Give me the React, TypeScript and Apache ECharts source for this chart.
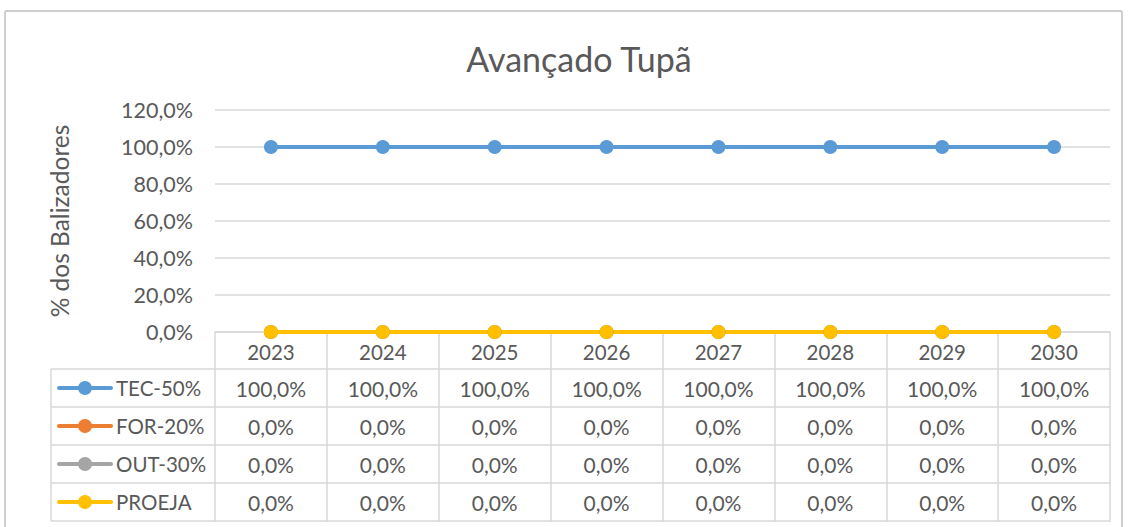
import React, { useEffect, useRef } from "react";
import * as echarts from "echarts";

const title = "Avançado Tupã";
const yAxisTitle = "% dos Balizadores";
const years = ["2023", "2024", "2025", "2026", "2027", "2028", "2029", "2030"];
const tecValues = [1, 1, 1, 1, 1, 1, 1, 1];
const forValues = [0, 0, 0, 0, 0, 0, 0, 0];
const outValues = [0, 0, 0, 0, 0, 0, 0, 0];
const proejaValues = [0, 0, 0, 0, 0, 0, 0, 0];
const seriesNames = ["TEC-50%", "FOR-20%", "OUT-30%", "PROEJA"];
const seriesColors = ["#5B9BD5", "#ED7D31", "#A5A5A5", "#FFC000"];
const seriesData = [tecValues, forValues, outValues, proejaValues];

const FONT = "Lato";
const TXT = "#595959";
const LINE = "#D9D9D9";

const fmt = (v: number) => (v * 100).toFixed(1).replace(".", ",") + "%";

export default function App() {
  const ref = useRef<HTMLDivElement>(null);
  useEffect(() => {
    const chart = echarts.init(ref.current!, undefined, { renderer: "svg" });
    const gridLeft = 215;
    const gridRight = 1110;
    const gridTop = 110;
    const gridBottomY = 332;
    const rowH = 38;
    const legendLeft = 51;
    const option: any = {
      animation: false,
      backgroundColor: "#fff",
      title: {
        text: title,
        left: 574,
        textAlign: "center",
        top: 36,
        textStyle: { fontFamily: FONT, fontSize: 34, fontWeight: "normal", color: TXT },
      },
      grid: { left: gridLeft, right: 1129 - gridRight, top: gridTop, bottom: 527 - gridBottomY },
      xAxis: {
        type: "category",
        data: years,
        boundaryGap: true,
        axisLine: { lineStyle: { color: LINE, width: 1.5 } },
        axisTick: { show: true, length: 190, lineStyle: { color: LINE, width: 1.5 } },
        axisLabel: { fontFamily: FONT, fontSize: 20.5, color: TXT, margin: 9 },
      },
      yAxis: {
        type: "value",
        min: 0,
        max: 1.2,
        interval: 0.2,
        name: yAxisTitle,
        nameLocation: "middle",
        nameRotate: 90,
        nameGap: 143,
        nameTextStyle: { fontFamily: FONT, fontSize: 24.5, color: TXT },
        axisLine: { show: false },
        axisTick: { show: false },
        splitLine: { lineStyle: { color: LINE, width: 1.5 } },
        axisLabel: { fontFamily: FONT, fontSize: 21.5, color: TXT, margin: 22, formatter: (v: number) => fmt(v) },
      },
      series: seriesNames.map((n, i) => ({
        name: n,
        type: "line",
        data: seriesData[i],
        symbol: "circle",
        symbolSize: 14,
        lineStyle: { color: seriesColors[i], width: 4 },
        itemStyle: { color: seriesColors[i] },
      })),
    };
    chart.setOption(option);

    const tableTop = gridBottomY + rowH - 1;
    const elements: any[] = [];
    const border = [
      [5, 11, 1122, 11],
      [5, 11, 5, 527],
      [1122, 11, 1122, 527],
    ];
    border.forEach(([x1, y1, x2, y2]) =>
      elements.push({
        type: "line",
        shape: { x1, y1, x2, y2 },
        style: { stroke: "#CFCFCF", lineWidth: 2 },
      })
    );
    for (let r = 0; r <= seriesNames.length; r++) {
      const y = Math.min(tableTop + r * rowH, 521);
      elements.push({
        type: "line",
        shape: { x1: legendLeft, y1: y, x2: gridRight, y2: y },
        style: { stroke: LINE, lineWidth: 1.5 },
      });
    }
    elements.push({
      type: "line",
      shape: { x1: legendLeft, y1: tableTop, x2: legendLeft, y2: 521 },
      style: { stroke: LINE, lineWidth: 1.5 },
    });
    seriesNames.forEach((n, r) => {
      const cy = tableTop + r * rowH + rowH / 2;
      elements.push({
        type: "line",
        shape: { x1: 59, y1: cy, x2: 111, y2: cy },
        style: { stroke: seriesColors[r], lineWidth: 4, lineCap: "round" },
      });
      elements.push({
        type: "circle",
        shape: { cx: 85, cy, r: 7 },
        style: { fill: seriesColors[r] },
      });
      elements.push({
        type: "text",
        x: 116,
        y: cy,
        style: { text: n, fontFamily: FONT, fontSize: 20.5, fill: TXT, textVerticalAlign: "middle", textAlign: "left" },
      });
      years.forEach((yr, c) => {
        const px = chart.convertToPixel({ xAxisIndex: 0 }, yr) as number;
        elements.push({
          type: "text",
          x: px,
          y: cy,
          style: {
            text: fmt(seriesData[r][c]),
            fontFamily: FONT,
            fontSize: 21,
            fill: TXT,
            textAlign: "center",
            textVerticalAlign: "middle",
          },
        });
      });
    });
    chart.setOption({ graphic: { elements } });
    return () => chart.dispose();
  }, []);
  return (
    <div
      ref={ref}
      style={{ position: "absolute", left: 0, top: 0, width: 1129, height: 527 }}
    />
  );
}
